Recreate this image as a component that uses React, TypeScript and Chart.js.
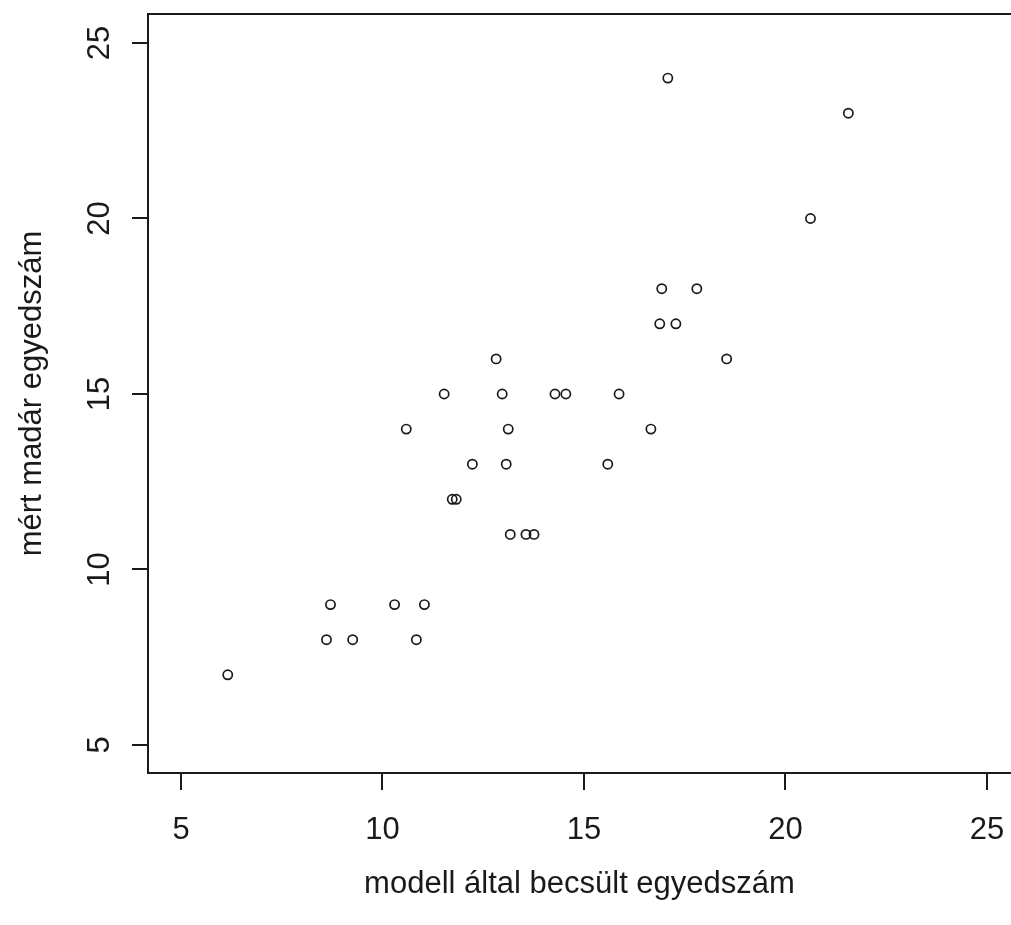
import React, { useEffect, useRef } from "react";
import { Chart, registerables } from "chart.js";

Chart.register(...registerables);

const predicted = [6.16, 8.61, 8.71, 9.26, 10.3, 10.84, 11.04, 10.59, 11.53, 11.73, 11.83, 12.23, 12.82, 12.97, 13.07, 13.12, 13.17, 13.56, 13.76, 14.28, 14.55, 15.59, 15.87, 16.66, 16.88, 16.93, 17.28, 17.08, 17.8, 18.54, 20.62, 21.56];
const measured = [7, 8, 9, 8, 9, 8, 9, 14, 15, 12, 12, 13, 16, 15, 13, 14, 11, 11, 11, 15, 15, 13, 15, 14, 17, 18, 17, 24, 18, 16, 20, 23];
const xTicks = [5, 10, 15, 20, 25];
const yTicks = [5, 10, 15, 20, 25];
const xTitle = "modell által becsült egyedszám";
const yTitle = "mért madár egyedszám";

const FONT = "'Liberation Sans', Arial, sans-serif";
const FONT_SIZE = 31;
const INK = "#1a1a1a";

export default function App() {
  const ref = useRef<HTMLCanvasElement | null>(null);

  useEffect(() => {
    const canvas = ref.current;
    if (!canvas) return;

    const framePlugin = {
      id: "frame",
      afterDraw(chart: any) {
        const { ctx, chartArea } = chart;
        const yScale = chart.scales.y;
        ctx.save();
        ctx.strokeStyle = INK;
        ctx.lineWidth = 2;
        ctx.beginPath();
        ctx.moveTo(chartArea.left, chartArea.top);
        ctx.lineTo(chartArea.right + 20, chartArea.top);
        ctx.stroke();
        // y tick labels, rotated as in R (las = 0)
        ctx.fillStyle = INK;
        ctx.font = `${FONT_SIZE}px ${FONT}`;
        ctx.textAlign = "center";
        ctx.textBaseline = "alphabetic";
        yTicks.forEach((v) => {
          const py = yScale.getPixelForValue(v);
          ctx.save();
          ctx.translate(109, py);
          ctx.rotate(-Math.PI / 2);
          ctx.fillText(String(v), 0, 0);
          ctx.restore();
        });
        ctx.restore();
      },
    };

    const chart = new Chart(canvas, {
      type: "scatter",
      data: {
        datasets: [
          {
            data: predicted.map((x, i) => ({ x, y: measured[i] })),
            pointStyle: "circle",
            pointRadius: 4.6,
            pointBorderWidth: 1.7,
            pointBorderColor: INK,
            pointBackgroundColor: "rgba(0,0,0,0)",
            pointHoverRadius: 4.6,
          },
        ],
      },
      options: {
        responsive: false,
        animation: false,
        devicePixelRatio: 1,
        layout: { autoPadding: false, padding: { top: 14, right: 0, left: 0, bottom: 0 } },
        plugins: { legend: { display: false }, tooltip: { enabled: false } },
        scales: {
          x: {
            type: "linear",
            min: 4.181,
            max: 25.596,
            afterFit: (s: any) => {
              s.height = 152;
              s.paddingLeft = 0;
              s.paddingRight = 0;
            },
            afterBuildTicks: (s: any) => {
              s.ticks = xTicks.map((v) => ({ value: v }));
            },
            border: { display: true, color: INK, width: 2 },
            grid: {
              drawOnChartArea: false,
              drawTicks: true,
              tickLength: 17,
              color: INK,
              lineWidth: 2,
            },
            ticks: {
              color: INK,
              font: { family: FONT, size: FONT_SIZE },
              padding: 22,
              maxRotation: 0,
              minRotation: 0,
              autoSkip: false,
            },
            title: {
              display: true,
              text: xTitle,
              color: INK,
              font: { family: FONT, size: FONT_SIZE },
              padding: { top: 0, bottom: 22 },
            },
          },
          y: {
            type: "linear",
            min: 4.202,
            max: 25.826,
            afterFit: (s: any) => {
              s.width = 148;
              s.paddingTop = 0;
              s.paddingBottom = 0;
            },
            afterBuildTicks: (s: any) => {
              s.ticks = yTicks.map((v) => ({ value: v }));
            },
            border: { display: true, color: INK, width: 2 },
            grid: {
              drawOnChartArea: false,
              drawTicks: true,
              tickLength: 16,
              color: INK,
              lineWidth: 2,
            },
            ticks: { display: false },
            title: {
              display: true,
              text: yTitle,
              color: INK,
              font: { family: FONT, size: FONT_SIZE },
              padding: { top: 14, bottom: 0 },
            },
          },
        },
      },
      plugins: [framePlugin],
    } as any);

    return () => chart.destroy();
  }, []);

  return (
    <div style={{ position: "fixed", left: 0, top: 0, width: 1011, height: 925, background: "#fff", overflow: "hidden" }}>
      <canvas ref={ref} width={1011} height={925} style={{ display: "block" }} />
    </div>
  );
}
